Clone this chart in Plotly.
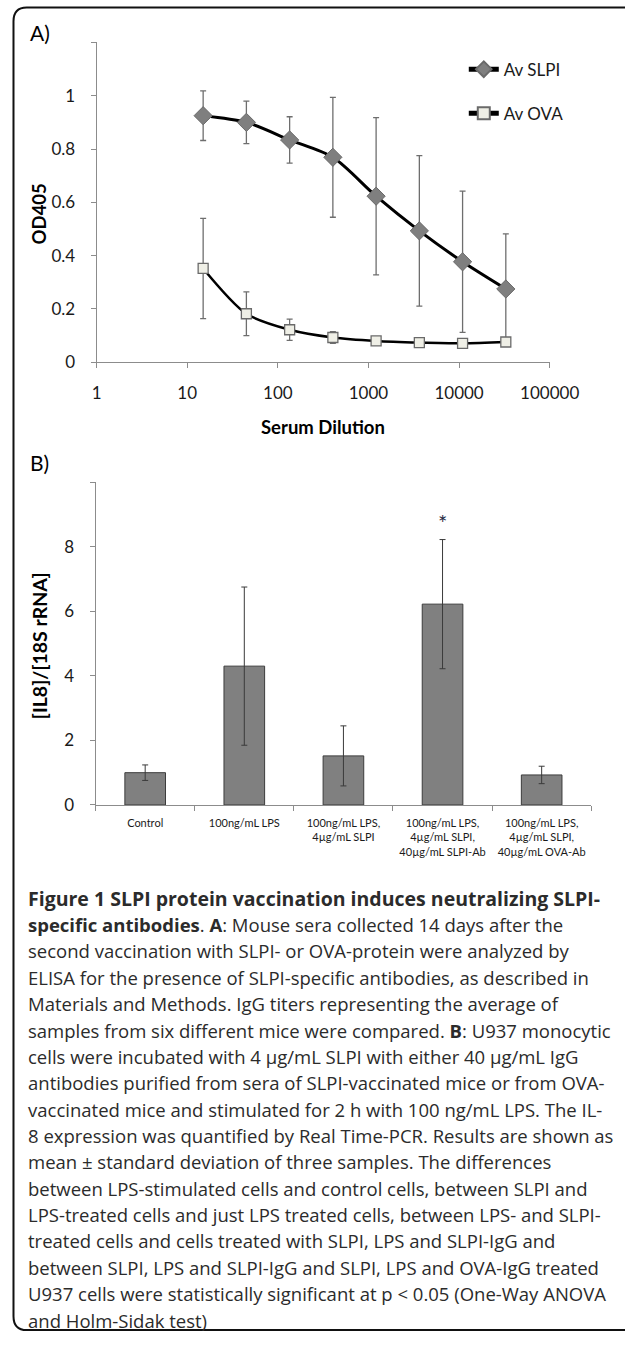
import plotly.graph_objects as go

W, H = 625, 1345

# ---------------- Data: panel A ----------------
dilution = [15, 45, 135, 405, 1215, 3645, 10935, 32805]
slpi_mean = [0.925, 0.900, 0.834, 0.769, 0.623, 0.493, 0.377, 0.275]
slpi_err = [0.093, 0.080, 0.087, 0.225, 0.295, 0.282, 0.265, 0.207]
ova_mean = [0.352, 0.182, 0.122, 0.093, 0.080, 0.074, 0.071, 0.076]
ova_err = [0.188, 0.082, 0.040, 0.022, 0.008, 0.006, 0.005, 0.006]
a_xticks = [1, 10, 100, 1000, 10000, 100000]
a_yticks = [0, 0.2, 0.4, 0.6, 0.8, 1, 1.2]

# ---------------- Data: panel B ----------------
treatments = [
    "Control",
    "100ng/mL LPS",
    "100ng/mL LPS,<br>4µg/mL SLPI",
    "100ng/mL LPS,<br>4µg/mL SLPI,<br>40µg/mL SLPI-Ab",
    "100ng/mL LPS,<br>4µg/mL SLPI,<br>40µg/mL OVA-Ab",
]
il8 = [1.00, 4.30, 1.52, 6.22, 0.93]
il8_err = [0.24, 2.45, 0.93, 2.00, 0.27]
sig_label = ["", "", "", "*", ""]
sig_y = [None, None, None, 8.75, None]
b_yticks = [0, 2, 4, 6, 8, 10]

caption_lines = [
    "<b>Figure 1 SLPI protein vaccination induces neutralizing SLPI-</b>",
    "<b>specific antibodies</b>. <b>A</b>: Mouse sera collected 14 days after the",
    "second vaccination with SLPI- or OVA-protein were analyzed by",
    "ELISA for the presence of SLPI-specific antibodies, as described in",
    "Materials and Methods. IgG titers representing the average of",
    "samples from six different mice were compared. <b>B</b>: U937 monocytic",
    "cells were incubated with 4 µg/mL SLPI with either 40 µg/mL IgG",
    "antibodies purified from sera of SLPI-vaccinated mice or from OVA-",
    "vaccinated mice and stimulated for 2 h with 100 ng/mL LPS. The IL-",
    "8 expression was quantified by Real Time-PCR. Results are shown as",
    "mean ± standard deviation of three samples. The differences",
    "between LPS-stimulated cells and control cells, between SLPI and",
    "LPS-treated cells and just LPS treated cells, between LPS- and SLPI-",
    "treated cells and cells treated with SLPI, LPS and SLPI-IgG and",
    "between SLPI, LPS and SLPI-IgG and SLPI, LPS and OVA-IgG treated",
    "U937 cells were statistically significant at p &lt; 0.05 (One-Way ANOVA",
    "and Holm-Sidak test)",
]


def px_x(x):
    return x / W


def px_y(y):
    return 1 - y / H


FONT = "Lato"
AXIS_GRAY = "#8c8c8c"

fig = go.Figure()

# Panel A traces
fig.add_trace(go.Scatter(
    x=dilution, y=slpi_mean, name="Av SLPI", mode="lines+markers",
    line=dict(color="black", width=3, shape="spline", smoothing=0.8),
    marker=dict(symbol="diamond", size=14, color="#7f7f7f",
                line=dict(color="#6a6a6a", width=1)),
    error_y=dict(type="data", array=slpi_err, visible=True,
                 color="#6e6e6e", thickness=1.3, width=3),
    xaxis="x", yaxis="y", legendgroup="a",
))
fig.add_trace(go.Scatter(
    x=dilution, y=ova_mean, name="Av OVA", mode="lines+markers",
    line=dict(color="black", width=2.5, shape="spline", smoothing=0.8),
    marker=dict(symbol="square", size=10, color="#efefe6",
                line=dict(color="#6a6a6a", width=1.3)),
    error_y=dict(type="data", array=ova_err, visible=True,
                 color="#6e6e6e", thickness=1.3, width=3),
    xaxis="x", yaxis="y", legendgroup="b",
))

# Panel B trace
fig.add_trace(go.Bar(
    x=treatments, y=il8, width=0.41,
    marker=dict(color="#808080", line=dict(color="#3c3c3c", width=1)),
    error_y=dict(type="data", array=il8_err, visible=True,
                 color="#3a3a3a", thickness=1, width=3),
    xaxis="x2", yaxis="y2", showlegend=False,
))

tickfont = dict(family=FONT, size=17, color="#1a1a1a")

fig.update_layout(
    width=W, height=H,
    margin=dict(l=0, r=0, t=0, b=0),
    paper_bgcolor="white", plot_bgcolor="white",
    showlegend=True,
    legend=dict(x=px_x(486), y=px_y(52), xanchor="left", yanchor="top",
                font=dict(family=FONT, size=17, color="#1a1a1a"),
                bgcolor="rgba(0,0,0,0)", tracegroupgap=19, itemwidth=30,
                itemsizing="constant"),
    xaxis=dict(
        type="log", range=[0, 5], domain=[px_x(97), px_x(577)],
        anchor="y", showgrid=False, zeroline=False,
        showline=True, linecolor=AXIS_GRAY, linewidth=1,
        ticks="outside", ticklen=5, tickcolor=AXIS_GRAY,
        tickvals=a_xticks, ticktext=[str(v) for v in a_xticks],
        tickfont=tickfont, ticklabelstandoff=10,
    ),
    yaxis=dict(
        range=[0, 1.2], domain=[px_y(365), px_y(42.7)],
        anchor="x", showgrid=False, zeroline=False,
        showline=True, linecolor=AXIS_GRAY, linewidth=1,
        ticks="outside", ticklen=5, tickcolor=AXIS_GRAY,
        tickvals=a_yticks,
        ticktext=[("%g" % v) if v < 1.2 else "" for v in a_yticks],
        tickfont=tickfont, ticklabelstandoff=12,
    ),
    xaxis2=dict(
        type="category", domain=[px_x(96), px_x(621)],
        anchor="y2", showgrid=False, zeroline=False,
        showline=True, linecolor=AXIS_GRAY, linewidth=1,
        ticks="outside", ticklen=5, tickcolor=AXIS_GRAY,
        tickson="boundaries",
        tickfont=dict(family=FONT, size=11, color="#1a1a1a"),
        ticklabelstandoff=8,
    ),
    yaxis2=dict(
        range=[0, 10], domain=[px_y(811), px_y(485.7)],
        anchor="x2", showgrid=False, zeroline=False,
        showline=True, linecolor=AXIS_GRAY, linewidth=1,
        ticks="outside", ticklen=5, tickcolor=AXIS_GRAY,
        tickvals=b_yticks,
        ticktext=[str(v) if v < 10 else "" for v in b_yticks],
        tickfont=tickfont, ticklabelstandoff=12,
    ),
)

annotations = []
# Panel labels
annotations.append(dict(text="A)", x=px_x(24), y=px_y(33), xref="paper", yref="paper",
                        xanchor="left", yanchor="middle", showarrow=False,
                        font=dict(family=FONT, size=21, color="black")))
annotations.append(dict(text="B)", x=px_x(24), y=px_y(466), xref="paper", yref="paper",
                        xanchor="left", yanchor="middle", showarrow=False,
                        font=dict(family=FONT, size=21, color="black")))
# Axis titles
annotations.append(dict(text="<b>OD405</b>", x=px_x(36), y=px_y(215), xref="paper", yref="paper",
                        textangle=-90, showarrow=False, xanchor="center", yanchor="middle",
                        font=dict(family=FONT, size=18.5, color="black")))
annotations.append(dict(text="<b>Serum Dilution</b>", x=px_x(337), y=px_y(430), xref="paper",
                        yref="paper", showarrow=False, xanchor="center", yanchor="middle",
                        font=dict(family=FONT, size=18.5, color="black")))
annotations.append(dict(text="<b>[IL8]/[18S rRNA]</b>", x=px_x(36), y=px_y(650), xref="paper",
                        yref="paper", textangle=-90, showarrow=False,
                        xanchor="center", yanchor="middle",
                        font=dict(family=FONT, size=19.5, color="black")))
# Significance markers
for cat, lab, yy in zip(treatments, sig_label, sig_y):
    if lab:
        annotations.append(dict(text=lab, x=cat, y=yy, xref="x2", yref="y2",
                                showarrow=False, xanchor="center", yanchor="middle",
                                font=dict(family=FONT, size=22, color="#1f2a44")))
# Caption
for i, line in enumerate(caption_lines):
    size = 19.5 if i == 0 else 18.5
    annotations.append(dict(text=line, x=px_x(22), y=px_y(905 + i * 26.56),
                            xref="paper", yref="paper", showarrow=False,
                            xanchor="left", yanchor="middle",
                            font=dict(family="Open Sans", size=size, color="#2b2b2b")))
fig.update_layout(annotations=annotations)

# Rounded figure border
x0, y0, x1, y1, r = 9, 7.5, 660, 1340, 14
path = (f"M {px_x(x0)},{px_y(y0 + r)} "
        f"Q {px_x(x0)},{px_y(y0)} {px_x(x0 + r)},{px_y(y0)} "
        f"L {px_x(x1)},{px_y(y0)} L {px_x(x1)},{px_y(y1)} "
        f"L {px_x(x0 + r)},{px_y(y1)} "
        f"Q {px_x(x0)},{px_y(y1)} {px_x(x0)},{px_y(y1 - r)} Z")
fig.add_shape(type="path", path=path, xref="paper", yref="paper",
              line=dict(color="#111111", width=2), fillcolor="rgba(0,0,0,0)")

fig.write_html(
    "out.html",
    config={"displayModeBar": False},
    post_script="document.body.style.margin='0';document.body.style.overflow='hidden';",
)
